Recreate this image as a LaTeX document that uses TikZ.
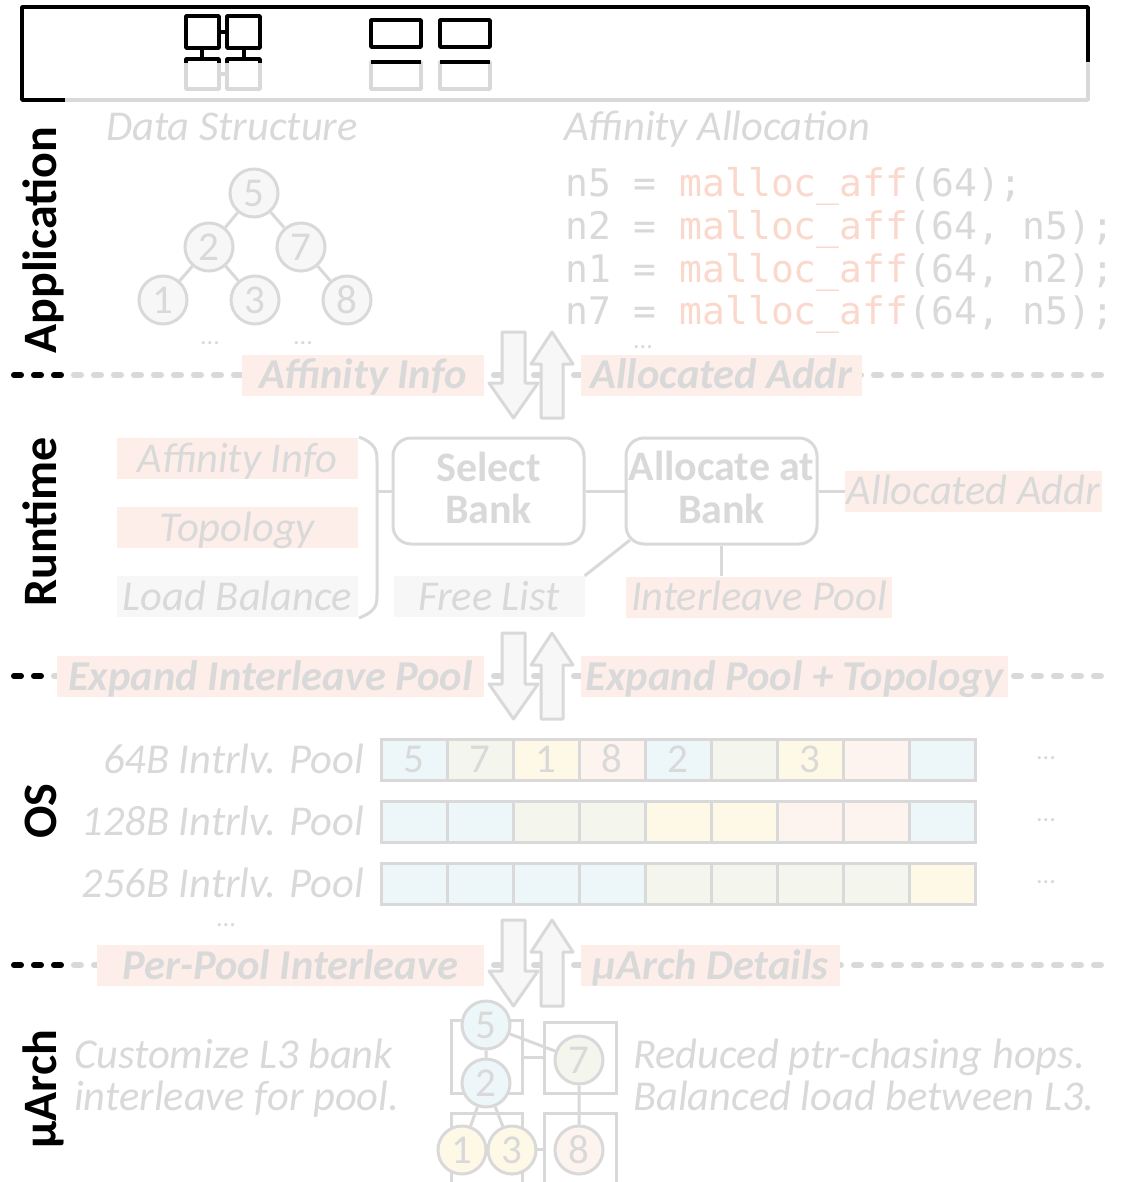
\documentclass[tikz,border=0pt]{standalone}
\usepackage{fontspec}
\setmainfont{Carlito}
\newfontfamily\codefont{DejaVu Sans Mono}
\usetikzlibrary{calc}

\definecolor{fade}{HTML}{D9D9D9}
\definecolor{pinkbg}{HTML}{FDEEE9}
\definecolor{greybg}{HTML}{F7F7F7}
\definecolor{codepink}{HTML}{FBD8CC}
\definecolor{cellB}{HTML}{EDF6F9}
\definecolor{cellG}{HTML}{F4F6EE}
\definecolor{cellY}{HTML}{FEF9E7}
\definecolor{cellP}{HTML}{FEF4EF}

\tikzset{
  layer/.style={rotate=90, inner sep=0, text height=31pt, text depth=0pt,
    font=\fontsize{48}{48}\selectfont\bfseries},
  faint/.style={inner sep=0, text=fade, text height=27pt, text depth=0pt,
    font=\fontsize{42.5}{43}\selectfont\itshape},
  boldfaint/.style={faint, font=\fontsize{42}{43}\selectfont\bfseries},
  tag/.style={faint, fill=pinkbg, minimum height=41pt,
    font=\fontsize{42.5}{43}\selectfont\bfseries\itshape},
  pinkbox/.style={faint, fill=pinkbg, minimum height=41pt},
  greybox/.style={faint, fill=greybg, minimum height=41pt},
  rbox/.style={draw=fade, line width=3pt, rounded corners=18pt,
    minimum width=191pt, minimum height=106pt, inner sep=0},
  link/.style={draw=fade, line width=3pt},
  sep/.style={line width=6pt, line cap=round, dash pattern=on 7pt off 13pt},
  bigarrow/.style={fill=greybg, draw=fade, line width=3pt, line join=round},
  tnode/.style={circle, draw=fade, line width=3pt, fill=greybg, minimum size=48pt,
    inner sep=0, text=fade, font=\fontsize{41}{42}\selectfont},
  cell/.style={draw=fade, line width=3pt, minimum width=66pt, minimum height=41pt,
    inner sep=0, text=fade, font=\fontsize{41}{42}\selectfont,
    text height=26pt, text depth=0pt},
  code/.style={inner sep=0, anchor=base west, text=fade,
    font=\fontsize{38}{38}\codefont},
  dots/.style={inner sep=0, text=fade, text height=4pt, text depth=0pt,
    font=\fontsize{26}{26}\selectfont},
  ico/.style={line width=3.5pt, line join=round},
}

% pair of hollow block arrows (down, up) centred on a separator row
\newcommand\arrowpair[1]{%
  \draw[bigarrow] (502,{#1-43}) -- (525,{#1-43}) -- (525,{#1+8}) -- (538,{#1+8})
    -- (513.5,{#1+43}) -- (489,{#1+8}) -- (502,{#1+8}) -- cycle;
  \draw[bigarrow] (552,{#1-43}) -- (573,{#1-11}) -- (563,{#1-11}) -- (563,{#1+43})
    -- (541,{#1+43}) -- (541,{#1-11}) -- (531,{#1-11}) -- cycle;}

\begin{document}
\begin{tikzpicture}[x=1pt,y=-1pt]
\useasboundingbox (0,0) rectangle (1132,1182);
\fill[white] (0,0) rectangle (1132,1182);

% ---------- top frame with memory icons ----------
\draw[ico, fade] (65,100) -- (1088,100) -- (1088,62);
\draw[ico, black] (65,100) -- (22,100) -- (22,7) -- (1088,7) -- (1088,62);

\draw[ico, fade] (186,59) rectangle (219,89) (227,59) rectangle (260,89) (219,74) -- (227,74);
\draw[ico, black] (186,16) rectangle (219,48) (227,16) rectangle (260,48)
  (219,32) -- (227,32) (202,48) -- (202,59) (244,48) -- (244,59);
\draw[ico, black] (186,63) -- (186,59) -- (219,59) -- (219,63)
  (227,63) -- (227,59) -- (260,59) -- (260,63);
\draw[ico, fade] (371,62) rectangle (421,89) (440,62) rectangle (490,89);
\draw[ico, black] (371,20) rectangle (421,47) (440,20) rectangle (490,47)
  (371,62) -- (421,62) (440,62) -- (490,62);

% ---------- layer names ----------
\node[layer] (lapp) at (41,240) {Application};
\node[layer] (lrt) at (41,522) {Runtime};
\node[layer] (los) at (41,811) {OS};
\node[layer] (lua) at (41,1089) {µArch};

% ---------- separators ----------
\draw[sep, fade] (14,375) -- (1110,375);
\draw[sep, black] (14,375) -- (65,375);
\draw[sep, fade] (14,676) -- (1110,676);
\draw[sep, black] (14,676) -- (50,676);
\draw[sep, fade] (14,965) -- (1110,965);
\draw[sep, black] (14,965) -- (66,965);

\node[tag, minimum width=242pt] (r1a) at (363,375) {Affinity Info};
\node[tag, minimum width=281pt] (r1b) at (721.5,375) {Allocated Addr};
\node[tag, minimum width=427pt] (r2a) at (270.5,676.5) {Expand Interleave Pool};
\node[tag, minimum width=427pt] (r2b) at (794.5,676.5) {Expand Pool + Topology};
\node[tag, minimum width=387pt] (r3a) at (290.5,965.5) {Per-Pool Interleave};
\node[tag, minimum width=259pt] (r3b) at (710.5,965.5) {µArch Details};

\arrowpair{375}
\arrowpair{676}
\arrowpair{963}

% ---------- application ----------
\node[faint] (ds) at (232,127) {Data Structure};
\node[faint, anchor=west] (aff) at (564,127) {Affinity Allocation};

\node[tnode] (t5) at (254,193) {5};
\node[tnode] (t2) at (209,247) {2};
\node[tnode] (t7) at (301,247) {7};
\node[tnode] (t1) at (163,300) {1};
\node[tnode] (t3) at (255,300) {3};
\node[tnode] (t8) at (347,300) {8};
\draw[link] (t5) -- (t2) (t5) -- (t7) (t2) -- (t1) (t2) -- (t3) (t7) -- (t8);
\node[dots] (d1) at (210,342) {...};
\node[dots] (d2) at (303,342) {...};

\node[code] (c1) at (565,197) {n5 = \textcolor{codepink}{malloc\_aff}(64);};
\node[code] (c2) at (565,239.5) {n2 = \textcolor{codepink}{malloc\_aff}(64, n5);};
\node[code] (c3) at (565,282) {n1 = \textcolor{codepink}{malloc\_aff}(64, n2);};
\node[code] (c4) at (565,324.5) {n7 = \textcolor{codepink}{malloc\_aff}(64, n5);};
\node[dots] (d3) at (643,346) {...};

% ---------- runtime ----------
\node[pinkbox, minimum width=241pt] (ai) at (237.5,458.5) {Affinity Info};
\node[pinkbox, minimum width=241pt] (topo) at (237.5,527.5) {Topology};
\node[greybox, minimum width=241pt] (lb) at (237.5,596.5) {Load Balance};

\node[rbox] (sb) at (488.5,491) {};
\node[boldfaint] (sbt1) at (488.5,468) {Select};
\node[boldfaint] (sbt2) at (488.5,510) {Bank};
\node[rbox] (ab) at (721.5,491) {};
\node[boldfaint] (abt1) at (721.5,467) {Allocate at};
\node[boldfaint] (abt2) at (721.5,510) {Bank};

\node[pinkbox, minimum width=257pt] (aa) at (973.5,491) {Allocated Addr};
\node[greybox, minimum width=191pt] (fl) at (489,596.5) {Free List};
\node[pinkbox, minimum width=266pt] (ip) at (759,597) {Interleave Pool};

\coordinate (br) at (377,491);
\draw[link] (359,437) .. controls (377,444) and (377,452) .. (377,462) -- (377,594)
  .. controls (377,604) and (377,611) .. (359,618);
\draw[link] (br) -- (sb.west);
\draw[link] (sb.east) -- (ab.west);
\draw[link] (ab.east) -- (aa.west);
\draw[link] (ab.south) -- (ab.south |- ip.north);
\draw[link] (fl.north east) -- ($(ab.south west)+(5.3,-5.3)$);

% ---------- OS pools ----------
\node[faint, anchor=east] (p64) at (364,760) {64B Intrlv. Pool};
\node[faint, anchor=east] (p128) at (364,822) {128B Intrlv. Pool};
\node[faint, anchor=east] (p256) at (364,884) {256B Intrlv. Pool};
\node[dots] (d4) at (226,924) {...};

\foreach \col/\lab [count=\i from 0] in {B/5,G/7,Y/1,P/8,B/2,G/,Y/3,P/,B/}
  \node[cell, fill=cell\col] (pa\i) at ({414+66*\i},759.5) {\lab};
\foreach \col [count=\i from 0] in {B,B,G,G,Y,Y,P,P,B}
  \node[cell, fill=cell\col] (pb\i) at ({414+66*\i},821.5) {};
\foreach \col [count=\i from 0] in {B,B,B,B,G,G,G,G,Y}
  \node[cell, fill=cell\col] (pc\i) at ({414+66*\i},883.5) {};

\node[dots] (d5) at (1046,757) {...};
\node[dots] (d6) at (1046,819) {...};
\node[dots] (d7) at (1046,881) {...};

% ---------- microarchitecture ----------
\node[faint, anchor=west] (u1) at (74,1055) {Customize L3 bank};
\node[faint, anchor=west] (u2) at (74,1097) {interleave for pool.};
\node[faint, anchor=west] (u3) at (633,1055) {Reduced ptr-chasing hops.};
\node[faint, anchor=west] (u4) at (633,1097) {Balanced load between L3.};

\draw[link] (451,1020) rectangle (522,1093);
\draw[link] (544,1022) rectangle (616,1093);
\draw[link] (451,1182) -- (451,1113) -- (522,1113) -- (522,1182);
\draw[link] (544,1182) -- (544,1113) -- (616,1113) -- (616,1182);
\draw[link] (522,1057) -- (544,1057);
\draw[link] (522,1149) -- (544,1149);

\node[tnode, fill=cellB] (m5) at (486,1025) {5};
\node[tnode, fill=cellB] (m2) at (486,1083) {2};
\node[tnode, fill=cellG] (m7) at (579,1060) {7};
\node[tnode, fill=cellY] (m1) at (462,1150) {1};
\node[tnode, fill=cellY] (m3) at (512,1150) {3};
\node[tnode, fill=cellP] (m8) at (579,1150) {8};
\draw[link] (m5) -- (m2) (m5) -- (m7) (m2) -- (m1) (m2) -- (m3) (m7) -- (m8);
\end{tikzpicture}
\end{document}
